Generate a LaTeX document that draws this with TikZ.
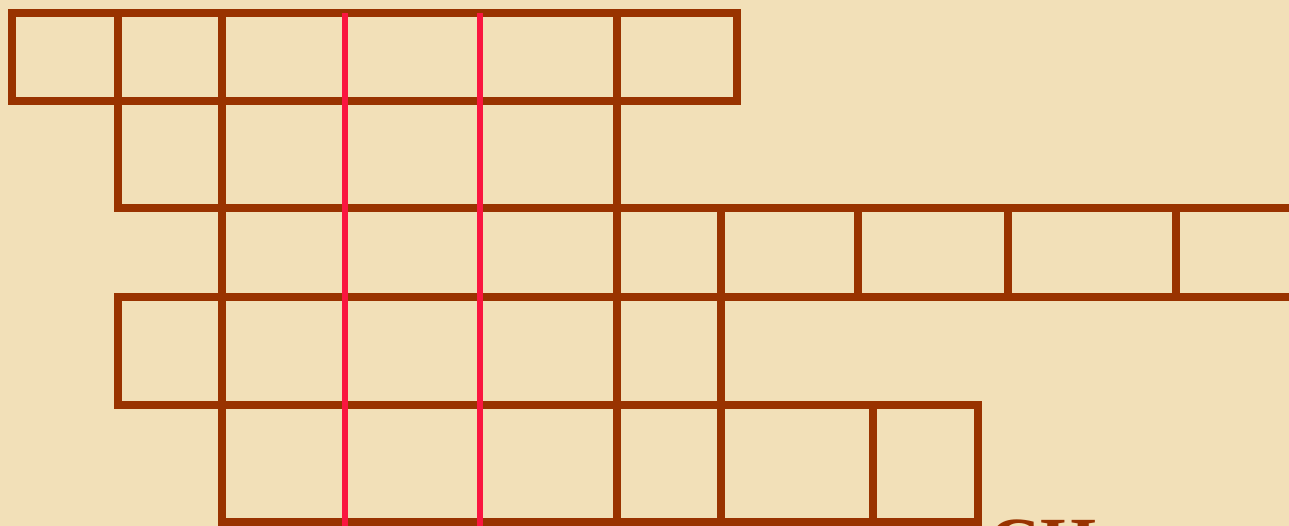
\documentclass[tikz,border=0pt]{standalone}
\usepackage{fontspec}
\setmainfont{Liberation Serif}
\usepackage{tikz}
\usepackage{xcolor}
\definecolor{cPaper}{RGB}{242,224,184}
\definecolor{cBrown}{RGB}{153,51,0}
\definecolor{cRed}{RGB}{250,22,64}
\tikzset{
    gridline/.style={draw=cBrown, line width=4pt, line cap=rect},
    keyline/.style ={draw=cRed, line width=3.4pt},
    cuttext/.style ={text=cBrown, font=\fontsize{41}{45}\selectfont\bfseries, inner sep=0pt, anchor=base west},
}
\begin{document}
\begin{tikzpicture}[x=0.02cm, y=-0.02cm]
    \fill[cPaper] (0,0) rectangle (1289,526);
    \useasboundingbox (0,0) rectangle (1289,526);
    % horizontal lines
    \draw[gridline] (12,13) -- (737,13);
    \draw[gridline] (12,101) -- (737,101);
    \draw[gridline] (118,208) -- (1295,208);
    \draw[gridline] (118,297) -- (1295,297);
    \draw[gridline] (118,405) -- (978,405);
    \draw[gridline] (222,522) -- (978,522);
    % vertical lines
    \draw[gridline] (12,13) -- (12,101);
    \draw[gridline] (737,13) -- (737,101);
    \draw[gridline] (118,13) -- (118,208);
    \draw[gridline] (118,297) -- (118,405);
    \foreach \x in {222,617}
        \draw[gridline] (\x,13) -- (\x,522);
    \draw[gridline] (721,208) -- (721,522);
    \foreach \x in {858,1008,1176}
        \draw[gridline] (\x,208) -- (\x,297);
    \foreach \x in {873,978}
        \draw[gridline] (\x,405) -- (\x,522);
    % key column
    \foreach \x in {345,480}
        \draw[keyline] (\x,13) -- (\x,530);
    \node[cuttext] (ch) at (988,568) {CH};
\end{tikzpicture}
\end{document}
